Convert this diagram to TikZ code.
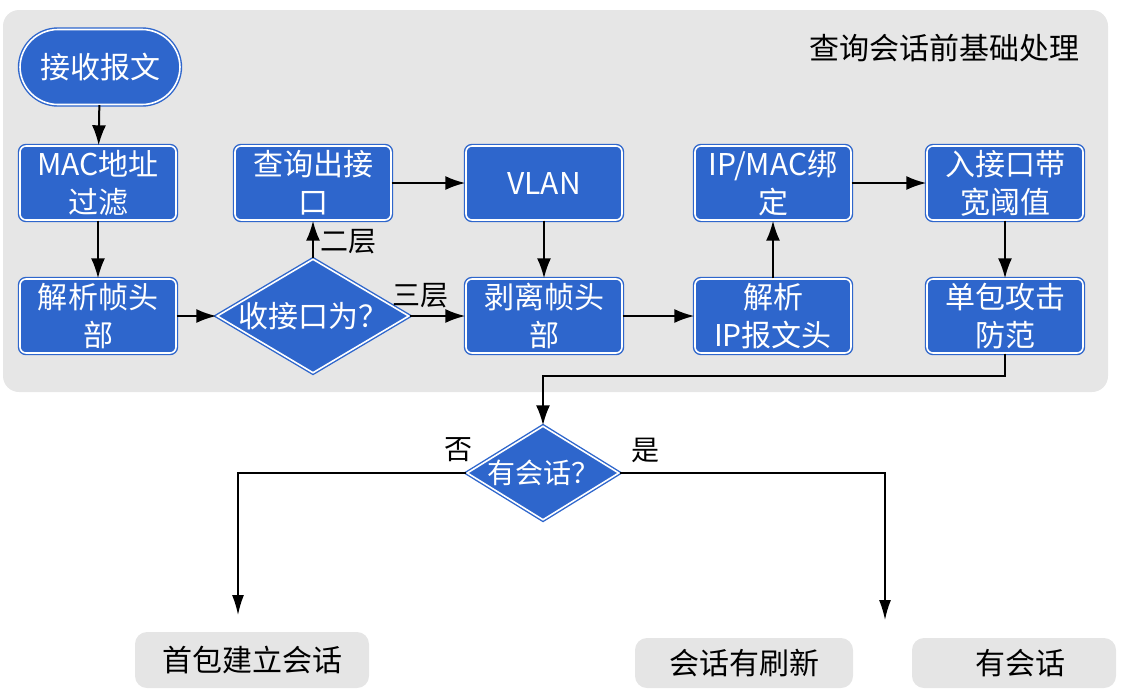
\documentclass[tikz,border=0pt]{standalone}
\usepackage{fontspec}
\setmainfont{Noto Sans CJK SC}
\usepackage[rgb]{xcolor}
\usepackage{tikz}
\usetikzlibrary{shapes.geometric, arrows.meta}

\definecolor{boxblue}{RGB}{46,102,204}
\definecolor{panelgray}{RGB}{230,230,230}
\definecolor{endgray}{RGB}{229,229,229}

\tikzset{
  stepbox/.style={rectangle, rounded corners=3pt, fill=boxblue, draw=boxblue,
    double=white, double distance=0.8pt, line width=0.7pt, text=white,
    minimum width=78pt, minimum height=37pt, inner sep=1pt, align=center,
    font=\fontsize{15}{19}\selectfont},
  askbox/.style={diamond, fill=boxblue, draw=boxblue, double=white,
    double distance=0.8pt, line width=0.7pt, inner sep=0pt},
  endbox/.style={rectangle, rounded corners=6pt, fill=endgray,
    font=\fontsize{15}{19}\selectfont},
  flow/.style={-{Latex[length=10pt,width=7pt]}, line width=1pt, black},
  thinflow/.style={-{Latex[length=10pt,width=6pt]}, line width=0.8pt, black},
  tag/.style={font=\fontsize{14}{16}\selectfont, text=black}
}

\begin{document}
\begin{tikzpicture}[x=0.5pt, y=-0.5pt]

\useasboundingbox (0,0) rectangle (1124,692);

% grey panel for the pre-session steps
\fill[panelgray, rounded corners=8pt] (3,10) rectangle (1108,392);
\path (1087,48) node[anchor=east, font=\fontsize{15}{19}\selectfont](title){查询会话前基础处理};

\path
(100,67) node[stepbox, rounded corners=19pt, minimum width=80pt, minimum height=37.5pt](recv){接收报文}
(98,183) node[stepbox](macf){MAC地址\\过滤}
(98,316) node[stepbox](frame){解析帧头\\部}
(313,183) node[stepbox](outif){查询出接\\口}
(313,316) node[askbox, minimum width=96pt, minimum height=57pt,
  label={[text=white, font=\fontsize{15}{19}\selectfont]center:收接口为？}](inif){}
(544,183) node[stepbox](vlan){VLAN}
(544,316) node[stepbox](strip){剥离帧头\\部}
(773,183) node[stepbox](bind){IP/MAC绑\\定}
(773,316) node[stepbox](iphead){解析\\IP报文头}
(1005,183) node[stepbox](band){入接口带\\宽阈值}
(1005,316) node[stepbox](guard){单包攻击\\防范};

%% main chain
\draw[flow] (recv) -- (macf);
\draw[flow] (macf) -- (frame);
\draw[flow] (frame) -- (inif);
\draw[flow] (inif) -- (outif) node[tag, pos=0.45, right]{二层};
\draw[flow] (inif) -- (strip) node[tag, pos=0.2, above]{三层};
\draw[flow] (outif) -- (vlan);
\draw[flow] (vlan) -- (strip);
\draw[flow] (strip) -- (iphead);
\draw[flow] (iphead) -- (bind);
\draw[flow] (bind) -- (band);
\draw[flow] (band) -- (guard);

%% session lookup
\path (543,473) node[askbox, minimum width=76pt, minimum height=47pt,
  label={[text=white, font=\fontsize{14}{16}\selectfont]center:有会话？}](sess){};
\draw[flow] (guard.south) -- ++(0,22) -| (sess.north);

\coordinate (nosess) at (238,615);
\coordinate (hassess) at (885,620);
\draw[thinflow] (sess.west) -| (nosess);
\draw[thinflow] (sess.east) -| (hassess);
\path (458,450) node[tag](no){否}
      (645,450) node[tag](yes){是};

\path
(252,660) node[endbox, minimum width=117pt, minimum height=28pt](first){首包建立会话}
(744,663) node[endbox, minimum width=109pt, minimum height=25pt](refresh){会话有刷新}
(1014,663) node[endbox, minimum width=102pt, minimum height=25pt](found){\hspace{6pt}有会话};

\end{tikzpicture}
\end{document}
